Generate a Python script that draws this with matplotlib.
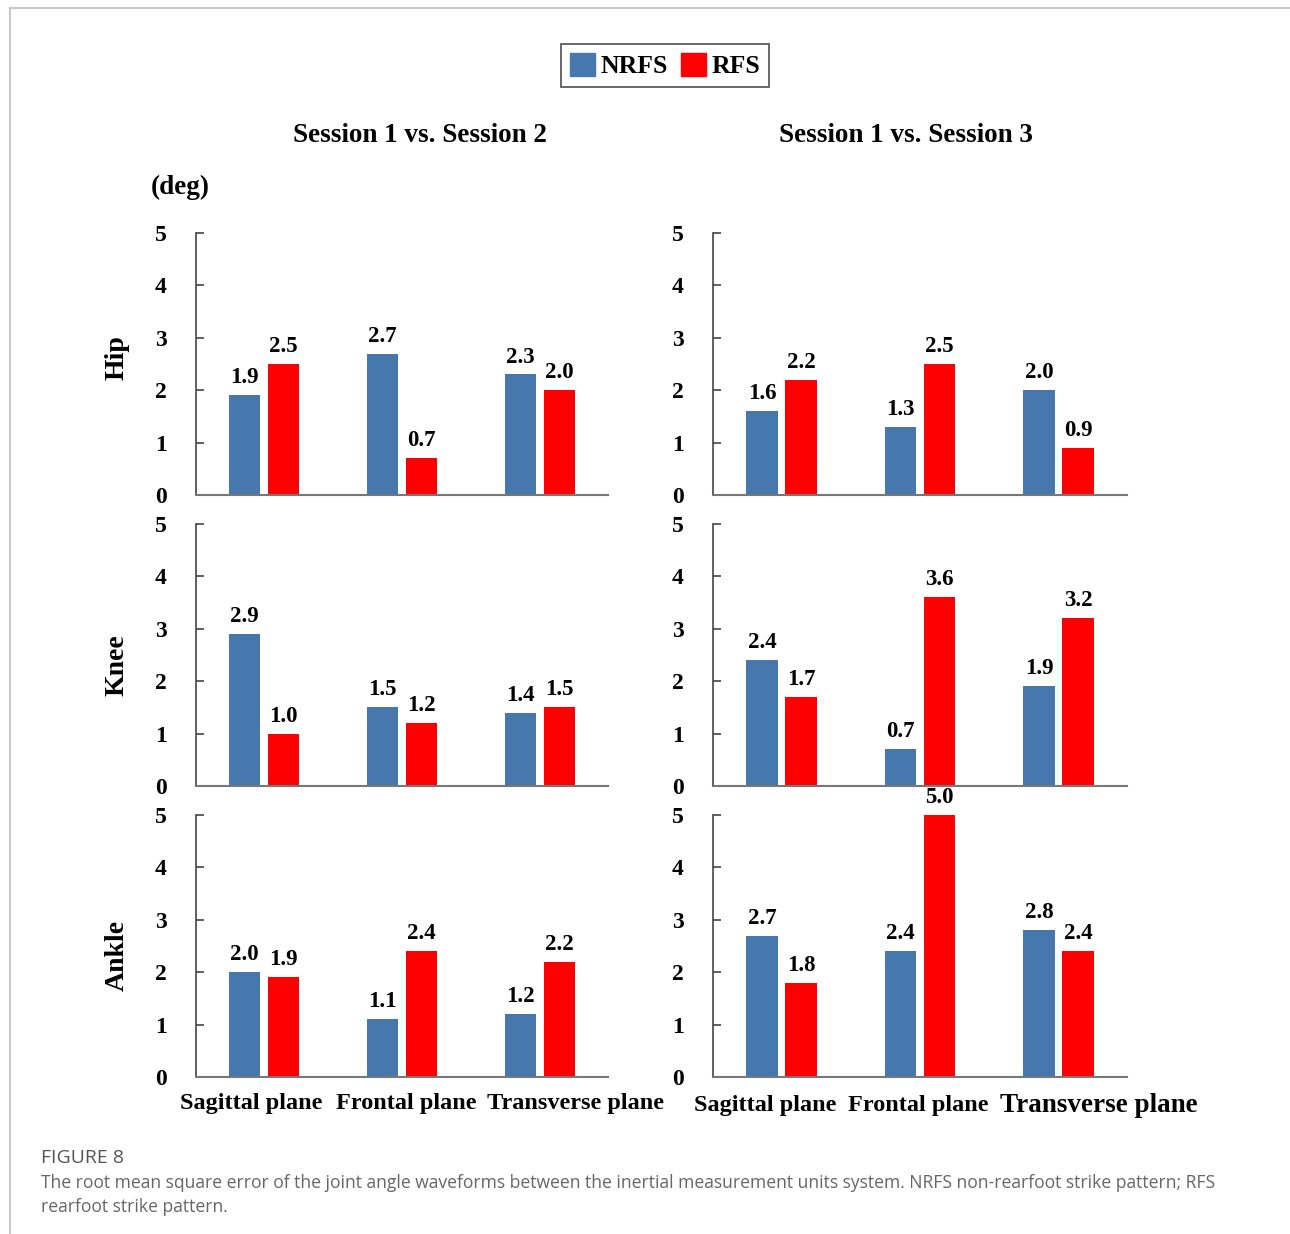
import numpy as np
import matplotlib.pyplot as plt
from matplotlib.patches import Patch
from matplotlib.lines import Line2D

planes = ['Sagittal plane', 'Frontal plane', 'Transverse plane']
joints = ['Hip', 'Knee', 'Ankle']
sessions = ['Session 1 vs. Session 2', 'Session 1 vs. Session 3']

# RMSE (deg), rows = joints, cols = planes
nrfs_s12 = [[1.9, 2.7, 2.3],
            [2.9, 1.5, 1.4],
            [2.0, 1.1, 1.2]]
rfs_s12 = [[2.5, 0.7, 2.0],
           [1.0, 1.2, 1.5],
           [1.9, 2.4, 2.2]]
nrfs_s13 = [[1.6, 1.3, 2.0],
            [2.4, 0.7, 1.9],
            [2.7, 2.4, 2.8]]
rfs_s13 = [[2.2, 2.5, 0.9],
           [1.7, 3.6, 3.2],
           [1.8, 5.0, 2.4]]

BLUE = '#4677ad'
RED = '#ff0000'
SERIF = 'Liberation Serif'

W, H = 1290, 1234
fig = plt.figure(figsize=(W / 100, H / 100), dpi=100)

def fx(px):
    return px / W

def fy(py):
    return 1 - py / H

# card border (left + top edge)
fig.add_artist(Line2D([fx(10), fx(10)], [0, fy(8)], color='#c8c8c8', lw=1.5))
fig.add_artist(Line2D([fx(10), 1], [fy(8), fy(8)], color='#c8c8c8', lw=1.5))

col_x = [(196, 412), (713, 414)]
row_y = [(233, 495), (524, 786), (815, 1077)]
xlab_pos = [[0.133, 0.51, 0.92], [0.126, 0.495, 0.932]]
xlab_size = [[17.5, 17.5, 17.5], [17.5, 17.5, 19.5]]
xlab_y = [-0.1, -0.11]

x = np.arange(len(planes))
w = 0.225
off = 0.141

data = [(nrfs_s12, rfs_s12), (nrfs_s13, rfs_s13)]

def value_labels(ax, xs, vals):
    for xi, v in zip(xs, vals):
        ax.annotate(f'{v:.1f}', (xi, v), xytext=(0, 5), textcoords='offset points',
                    ha='center', va='bottom', fontsize=16.5, fontweight='bold',
                    family=SERIF, annotation_clip=False)

for c, (left, width) in enumerate(col_x):
    nrfs, rfs = data[c]
    for r, (top, bot) in enumerate(row_y):
        ax = fig.add_axes([fx(left), fy(bot), fx(width), (bot - top) / H])
        ax.bar(x - off, nrfs[r], w, color=BLUE)
        ax.bar(x + off, rfs[r], w, color=RED)
        value_labels(ax, x - off, nrfs[r])
        value_labels(ax, x + off, rfs[r])
        ax.set_xlim(-0.495, 2.495)
        ax.set_ylim(0, 5)
        ax.set_yticks(range(6))
        ax.set_xticks([])
        ax.tick_params(axis='y', direction='in', length=6, width=1.2, color='#444444',
                       pad=21)
        for lab in ax.get_yticklabels():
            lab.set_family(SERIF)
            lab.set_fontweight('bold')
            lab.set_fontsize(17)
        for s in ['top', 'right']:
            ax.spines[s].set_visible(False)
        ax.spines['left'].set_color('#444444')
        ax.spines['left'].set_linewidth(1.2)
        ax.spines['bottom'].set_color('#777777')
        ax.spines['bottom'].set_linewidth(1.5)
        if r == 2:
            for p, name in enumerate(planes):
                ax.text(xlab_pos[c][p], xlab_y[c], name, transform=ax.transAxes,
                        ha='center', va='center', fontsize=xlab_size[c][p],
                        fontweight='bold', family=SERIF)

# row labels
for name, yc in zip(joints, [358, 665, 955]):
    fig.text(fx(117), fy(yc), name, rotation=90, ha='center', va='center',
             fontsize=20, fontweight='bold', family=SERIF)

fig.text(fx(180), fy(187), '(deg)', ha='center', va='center', fontsize=19.5,
         fontweight='bold', family=SERIF)

for name, xc in zip(sessions, [420, 906]):
    fig.text(fx(xc), fy(135), name, ha='center', va='center', fontsize=19.5,
             fontweight='bold', family=SERIF)

handles = [Patch(color=BLUE, label='NRFS'), Patch(color=RED, label='RFS')]
leg = fig.legend(handles=handles, loc='center', bbox_to_anchor=(fx(665), fy(65.5)),
                 ncol=2, frameon=True, fancybox=False, edgecolor='#333333',
                 handlelength=1.0, handleheight=1.0, handletextpad=0.2,
                 columnspacing=0.5, borderpad=0.35,
                 prop={'family': SERIF, 'weight': 'bold', 'size': 18.5})
leg.get_frame().set_linewidth(1.3)

# caption
fig.text(fx(41), fy(1158), 'FIGURE 8', ha='left', va='center', fontsize=14,
         color='#555555', family='Open Sans')
fig.text(fx(41), fy(1195),
         'The root mean square error of the joint angle waveforms between the inertial '
         'measurement units system. NRFS non-rearfoot strike pattern; RFS\n'
         'rearfoot strike pattern.',
         ha='left', va='center', fontsize=12.65, color='#666666', family='Open Sans',
         linespacing=1.5)

fig.savefig('out.png', dpi=100)
